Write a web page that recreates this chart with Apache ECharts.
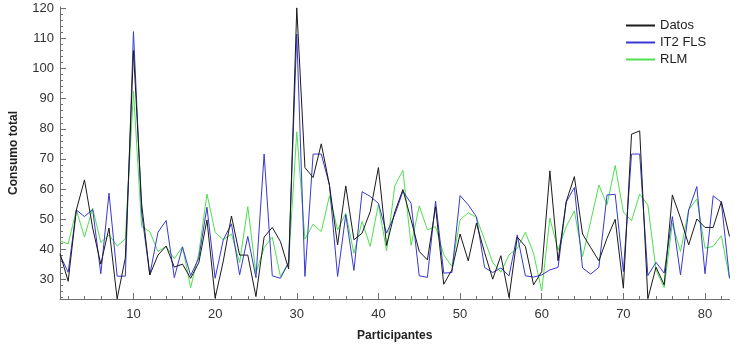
<!DOCTYPE html>
<html>
<head>
<meta charset="utf-8">
<script src="https://cdn.jsdelivr.net/npm/echarts@6/dist/echarts.min.js"></script>
<style>
    html, body { margin: 0; padding: 0; background: #fff; }
    #chart { width: 738px; height: 347px; }
</style>
</head>
<body>
<div id="chart"></div>
<script>
// participantes 1..83
var participantes = [];
for (var i = 1; i <= 83; i++) participantes.push(String(i));

var datos = [38.5, 29.3, 53, 63, 47, 35, 47, 23.5, 37, 106,
    55, 31.4, 38, 41, 34, 35, 30.3, 35.5, 49.7, 23.7,
    36, 51, 38, 38, 24.2, 44, 47.2, 42.5, 33.4, 120.2,
    67.1, 63.8, 75, 61.3, 41.4, 61, 43.1, 45.3, 52.5, 67.1,
    41.2, 52.3, 59.8, 49.7, 39.2, 36.4, 54.1, 28.3, 33.1, 45,
    36.1, 48.6, 38.9, 30, 37.8, 23.9, 44, 40.9, 28.1, 32.5,
    66, 36.1, 55.8, 64.1, 45, 40.5, 36.1, 43.6, 49.9, 27,
    78.2, 79.3, 23.5, 34, 28.1, 58, 50.3, 41.4, 50, 47.2,
    47.2, 55.8, 44.2];

var it2fls = [38, 32.3, 53, 50.8, 53.2, 31.8, 58.6, 31, 31, 112.3,
    52, 31.4, 45.6, 49.5, 30.5, 40.7, 31.2, 37, 53.9, 30.3,
    43.1, 48.4, 31.4, 44.2, 30.5, 71.6, 31.1, 30.3, 35.5, 111.5,
    30.9, 71.6, 71.6, 61.3, 30.9, 51.4, 32.9, 59.1, 57.5, 55.2,
    45.3, 51.4, 59.2, 55.2, 31.1, 30.6, 56, 32, 32.2, 57.8,
    54.7, 50.8, 33.9, 32.2, 33.7, 31.1, 44.7, 31.1, 30.7, 31.4,
    33.1, 33.9, 55.6, 60.5, 33.7, 31.7, 33.9, 58, 58.2, 32.5,
    71.6, 71.6, 31.2, 35.6, 32, 50.8, 31.4, 53, 60.8, 31.8,
    57.7, 55.6, 30.3];

var rlm = [42.7, 41.7, 53, 44, 53.6, 42.2, 44.7, 41, 43.4, 92.5,
    47.5, 45.8, 39.2, 40.9, 36.8, 40.8, 27.2, 38.5, 58.3, 45.6,
    43.1, 45, 35.5, 54.1, 32, 40.5, 44, 30.9, 35.5, 79,
    43.3, 48.3, 45.8, 57.7, 46.4, 51.9, 38.6, 49.2, 40.9, 54.9,
    39.4, 61, 66.2, 41.2, 54.4, 46.4, 47.5, 38.1, 34.2, 49.7,
    52.1, 50.5, 43.1, 35.5, 32.3, 38.1, 40.2, 45.6, 38.6, 26.1,
    50.3, 39.7, 47.5, 52.7, 37.5, 49.2, 61.3, 54.7, 67.8, 52.3,
    49.4, 58.3, 54.7, 33, 27.2, 48.6, 39.2, 53, 56.7, 40.3,
    40.9, 44.4, 30.3];

var yTicks = [30, 40, 50, 60, 70, 80, 90, 100, 110, 120];
var yMinorTicks = [24, 26, 28, 30, 32, 34, 36, 38, 40, 42, 44, 46, 48, 50, 52, 54, 56, 58, 60,
    62, 64, 66, 68, 70, 72, 74, 76, 78, 80, 82, 84, 86, 88, 90, 92, 94, 96, 98, 100,
    102, 104, 106, 108, 110, 112, 114, 116, 118, 120];

var axisColor = '#6e6e6e';
var labelColor = '#333';

var myChart = echarts.init(document.getElementById('chart'));
var option = {
    backgroundColor: '#fff',
    animation: false,
    grid: { left: 59, right: 8.5, top: 7, bottom: 48 },
    legend: {
        orient: 'vertical',
        left: 621,
        top: 14,
        itemWidth: 29,
        itemHeight: 2,
        itemGap: 4,
        icon: 'rect',
        textStyle: { fontSize: 13, lineHeight: 13, color: '#222', fontFamily: 'Liberation Sans, Arial' },
        data: ['Datos', 'IT2 FLS', 'RLM']
    },
    xAxis: [
        {
            type: 'category',
            data: participantes,
            boundaryGap: false,
            name: 'Participantes',
            nameLocation: 'middle',
            nameGap: 31,
            nameTextStyle: { fontSize: 12, fontWeight: 'bold', color: '#222', fontFamily: 'Liberation Sans, Arial' },
            axisLine: { lineStyle: { color: axisColor, width: 1 } },
            axisTick: {
                inside: true, length: 6,
                interval: function (index, value) { return Number(value) % 10 === 0; },
                lineStyle: { color: axisColor }
            },
            axisLabel: {
                margin: 9,
                interval: function (index, value) { return Number(value) % 10 === 0; },
                fontSize: 13, color: labelColor, fontFamily: 'Liberation Sans, Arial'
            },
            splitLine: { show: false }
        },
        {
            type: 'category',
            data: participantes,
            boundaryGap: false,
            position: 'bottom',
            axisLine: { show: false },
            axisTick: {
                inside: true, length: 3,
                interval: function (index, value) { return Number(value) % 2 === 0; },
                lineStyle: { color: axisColor }
            },
            axisLabel: { show: false },
            splitLine: { show: false }
        }
    ],
    yAxis: [
        {
            type: 'value',
            min: 23.4,
            max: 120.5,
            name: 'Consumo total',
            nameLocation: 'middle',
            nameGap: 40,
            nameRotate: 90,
            nameTextStyle: { fontSize: 12, fontWeight: 'bold', color: '#222', fontFamily: 'Liberation Sans, Arial' },
            axisLine: { show: true, lineStyle: { color: axisColor, width: 1 } },
            axisTick: { show: true, inside: true, length: 6, customValues: yTicks, lineStyle: { color: axisColor } },
            axisLabel: { margin: 6, customValues: yTicks, fontSize: 13, color: labelColor, fontFamily: 'Liberation Sans, Arial' },
            splitLine: { show: false }
        },
        {
            type: 'value',
            min: 23.4,
            max: 120.5,
            position: 'left',
            axisLine: { show: false },
            axisTick: { show: true, inside: true, length: 3, customValues: yMinorTicks, lineStyle: { color: axisColor } },
            axisLabel: { show: false },
            splitLine: { show: false }
        }
    ],
    series: [
        {
            name: 'RLM',
            type: 'line',
            data: rlm,
            showSymbol: false,
            lineStyle: { color: '#4ee04e', width: 1 },
            itemStyle: { color: '#4ee04e' },
            z: 2
        },
        {
            name: 'IT2 FLS',
            type: 'line',
            data: it2fls,
            showSymbol: false,
            lineStyle: { color: '#3838d2', width: 1 },
            itemStyle: { color: '#3838d2' },
            z: 3
        },
        {
            name: 'Datos',
            type: 'line',
            data: datos,
            showSymbol: false,
            lineStyle: { color: '#1a1a1a', width: 1 },
            itemStyle: { color: '#1a1a1a' },
            z: 4
        }
    ]
};
myChart.setOption(option);
</script>
</body>
</html>
